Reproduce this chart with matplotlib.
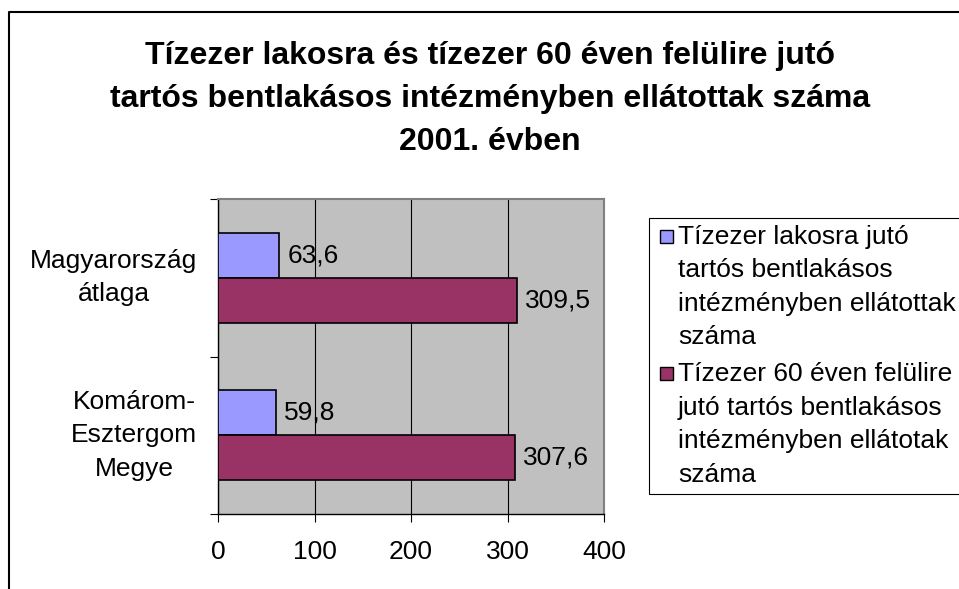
import matplotlib
matplotlib.use("Agg")
import matplotlib.pyplot as plt
from matplotlib.patches import Rectangle
from matplotlib.lines import Line2D

# ---------------- data ----------------
categories = ["Magyarország\nátlaga", "Komárom-\nEsztergom\nMegye"]
series_names = [
    "Tízezer lakosra jutó\ntartós bentlakásos\nintézményben ellátottak\nszáma",
    "Tízezer 60 éven felülire\njutó tartós bentlakásos\nintézményben ellátotak\nszáma",
]
per_10000_pop = [63.6, 59.8]
per_10000_60plus = [309.5, 307.6]
x_ticks = [0, 100, 200, 300, 400]
title = ("Tízezer lakosra és tízezer 60 éven felülire jutó\n"
         "tartós bentlakásos intézményben ellátottak száma\n"
         "2001. évben")
colors = ["#9999FF", "#993366"]

plt.rcParams['font.family'] = ['Liberation Sans', 'DejaVu Sans']
FS = 19

W, H = 959, 589
fig = plt.figure(figsize=(W / 100, H / 100), dpi=100)


def fx(x):
    return x / W


def fy(y):
    return 1 - y / H


# outer chart frame (only left and top edges visible)
fig.add_artist(Line2D([fx(9), fx(9), fx(1000)], [fy(620), fy(12), fy(12)],
                      color='black', lw=1.5, transform=fig.transFigure))

ax = fig.add_axes([fx(218), fy(514), (604 - 218) / W, (514 - 199) / H])
ax.set_facecolor('#C0C0C0')

ypos = list(range(len(categories)))
h = 0.286
series = [per_10000_pop, per_10000_60plus]
offsets = [-h / 2, h / 2]
for vals, off, col in zip(series, offsets, colors):
    bars = ax.barh([y + off for y in ypos], vals, height=h, color=col,
                   edgecolor='black', linewidth=1.2, zorder=3)
    for rect, v in zip(bars, vals):
        ax.annotate(f"{v:.1f}".replace('.', ','),
                    xy=(v, rect.get_y() + rect.get_height() / 2),
                    xytext=(6, 0), textcoords='offset points',
                    va='center', ha='left', fontsize=FS)

ax.set_xlim(x_ticks[0], x_ticks[-1])
ax.set_ylim(len(categories) - 0.5, -0.5)
ax.set_xticks(x_ticks)
ax.set_xticklabels([str(t) for t in x_ticks], fontsize=FS)
ax.set_yticks([y - 0.5 for y in ypos] + [ypos[-1] + 0.5])
ax.set_yticklabels([])
ax.set_yticks(ypos, minor=True)
ax.set_yticklabels(categories, minor=True, fontsize=FS,
                   multialignment='center', linespacing=1.5, va='center')
ax.tick_params(axis='y', which='minor', length=0, pad=15)
ax.tick_params(axis='y', which='major', length=6, direction='out', width=0.8)
ax.tick_params(axis='x', length=6, pad=13, width=0.8)
ax.xaxis.grid(True, color='black', lw=0.8)
ax.set_axisbelow(True)
for s in ['left', 'bottom']:
    ax.spines[s].set_color('black')
    ax.spines[s].set_linewidth(1.0)
for s in ['top', 'right']:
    ax.spines[s].set_color('#808080')
    ax.spines[s].set_linewidth(1.5)

# title
fig.text(fx(490), fy(41), title, ha='center', va='top', fontsize=23,
         fontweight='bold', linespacing=1.56)

# legend (manual, to match the Excel layout)
fig.add_artist(Rectangle((fx(649), fy(494)), fx(1000) - fx(649), (494 - 218) / H,
                         transform=fig.transFigure, facecolor='white',
                         edgecolor='black', lw=0.8))
entry_top = [230, 367]
for name, col, top in zip(series_names, colors, entry_top):
    fig.add_artist(Rectangle((fx(660), fy(top + 13)), 13 / W, 13 / H,
                             transform=fig.transFigure, facecolor=col,
                             edgecolor='black', lw=1.0))
    fig.text(fx(678), fy(top - 5), name, ha='left', va='top', fontsize=FS,
             linespacing=1.5)

fig.savefig('out.png', dpi=100)
